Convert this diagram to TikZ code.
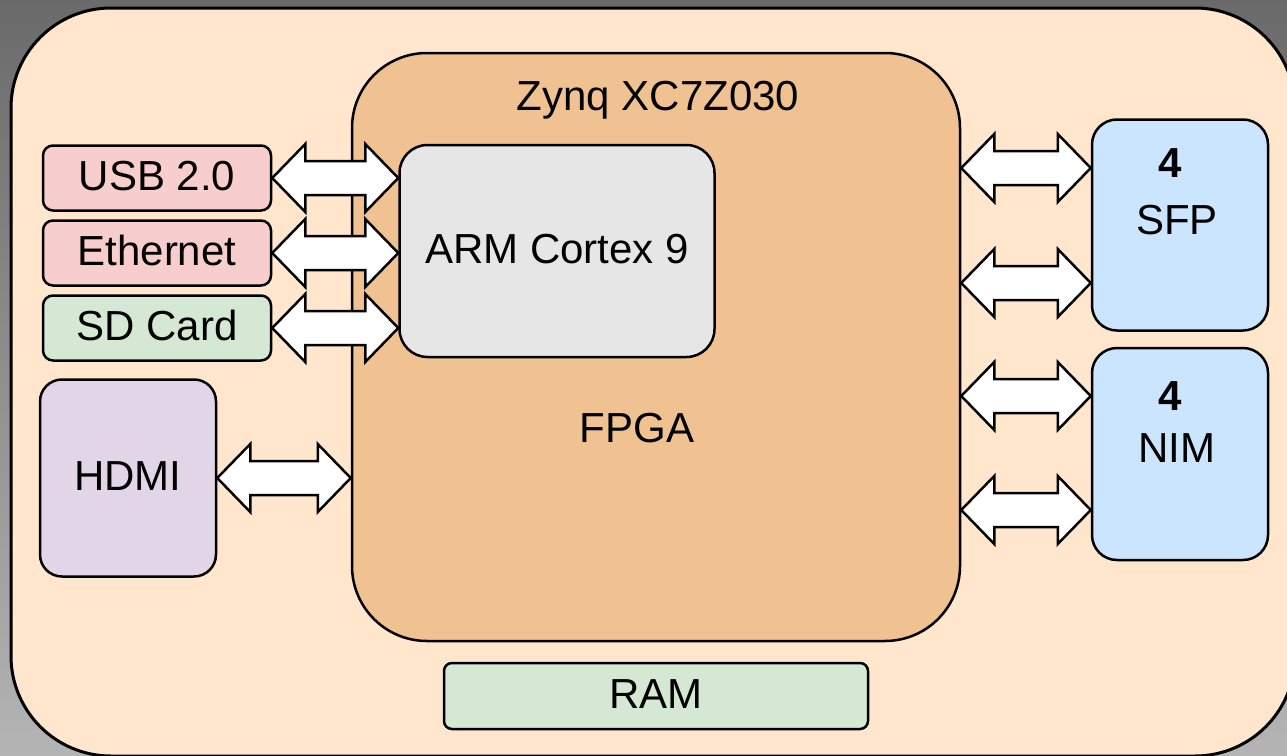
\documentclass[tikz,border=0pt]{standalone}
\usepackage{fontspec}
\setmainfont{Liberation Sans}
\usetikzlibrary{calc}
\definecolor{bgtop}{HTML}{6A6A6A}
\definecolor{bgbot}{HTML}{B4B4B4}
\definecolor{board}{HTML}{FFE6CC}
\definecolor{fpgaorange}{HTML}{F0C191}
\definecolor{armgray}{HTML}{E6E6E6}
\definecolor{iored}{HTML}{F8CECC}
\definecolor{iogreen}{HTML}{D5E8D4}
\definecolor{iopurple}{HTML}{E1D5E7}
\definecolor{ioblue}{HTML}{CCE5FF}
% fat white double arrow, left end first
\newcommand{\biarrow}[2]{%
  \coordinate (ba) at (#1);
  \coordinate (bb) at (#2 |- ba);
  \draw[fat] (ba) -- ++(33,-34) -- ++(0,17) -- ($(bb)+(-33,-17)$) -- ++(0,-17) -- (bb)
    -- ++(-33,34) -- ++(0,-17) -- ($(ba)+(33,17)$) -- ++(0,17) -- cycle;}
\begin{document}
\begin{tikzpicture}[x=1pt,y=-1pt,font=\fontsize{42}{50}\selectfont,
  blk/.style={draw,line width=2.5pt,rounded corners=#1,inner sep=0pt,text height=25pt,text depth=0pt},
  lbl/.style={inner sep=0pt,text height=25pt,text depth=0pt},
  fat/.style={fill=white,line width=2.5pt,line join=miter}]
  \useasboundingbox (0,0) rectangle (1287,755);
  \shade[top color=bgtop,bottom color=bgbot] (0,0) rectangle (1287,755);
  \draw[fill=board,line width=3pt,rounded corners=100pt] (11,8) rectangle (1295,756);
  % Zynq
  \node[blk=75pt,fill=fpgaorange,minimum width=608,minimum height=588] (fpga) at (656,347) {};
  \node[lbl] (zynq) at (658,98) {Zynq XC7Z030};
  \node[lbl] (fpgatxt) at (637,430) {FPGA};
  \node[blk=28pt,fill=armgray,minimum width=315,minimum height=212] (arm) at (557,251) {ARM Cortex 9};
  % left side
  \node[blk=10pt,fill=iored,minimum width=228,minimum height=65] (usb) at (157,178) {USB 2.0};
  \node[blk=10pt,fill=iored,minimum width=228,minimum height=65] (eth) at (157,253) {Ethernet};
  \node[blk=10pt,fill=iogreen,minimum width=228,minimum height=65] (sd) at (157,328) {SD Card};
  \node[blk=22pt,fill=iopurple,minimum width=176,minimum height=197] (hdmi) at (128,478) {HDMI};
  % right side
  \node[blk=25pt,fill=ioblue,minimum width=176,minimum height=211] (sfp) at (1180,225) {};
  \node[lbl] (sfpn) at (1170,165) {\textbf{4}};
  \node[lbl] (sfptxt) at (1177,222) {SFP};
  \node[blk=25pt,fill=ioblue,minimum width=176,minimum height=212] (nim) at (1180,454) {};
  \node[lbl] (nimn) at (1170,398) {\textbf{4}};
  \node[lbl] (nimtxt) at (1177,450) {NIM};
  \node[blk=8pt,fill=iogreen,minimum width=424,minimum height=66] (ram) at (656,696) {RAM};
  % links
  \biarrow{usb.east}{arm.west}
  \biarrow{eth.east}{arm.west}
  \biarrow{sd.east}{arm.west}
  \biarrow{hdmi.east}{fpga.west}
  \coordinate (sfpa) at ($(sfp.west)+(0,-57)$);
  \coordinate (sfpb) at ($(sfp.west)+(0,58)$);
  \coordinate (nima) at ($(nim.west)+(0,-58)$);
  \coordinate (nimb) at ($(nim.west)+(0,56)$);
  \biarrow{fpga.east |- sfpa}{sfpa}
  \biarrow{fpga.east |- sfpb}{sfpb}
  \biarrow{fpga.east |- nima}{nima}
  \biarrow{fpga.east |- nimb}{nimb}
\end{tikzpicture}
\end{document}
